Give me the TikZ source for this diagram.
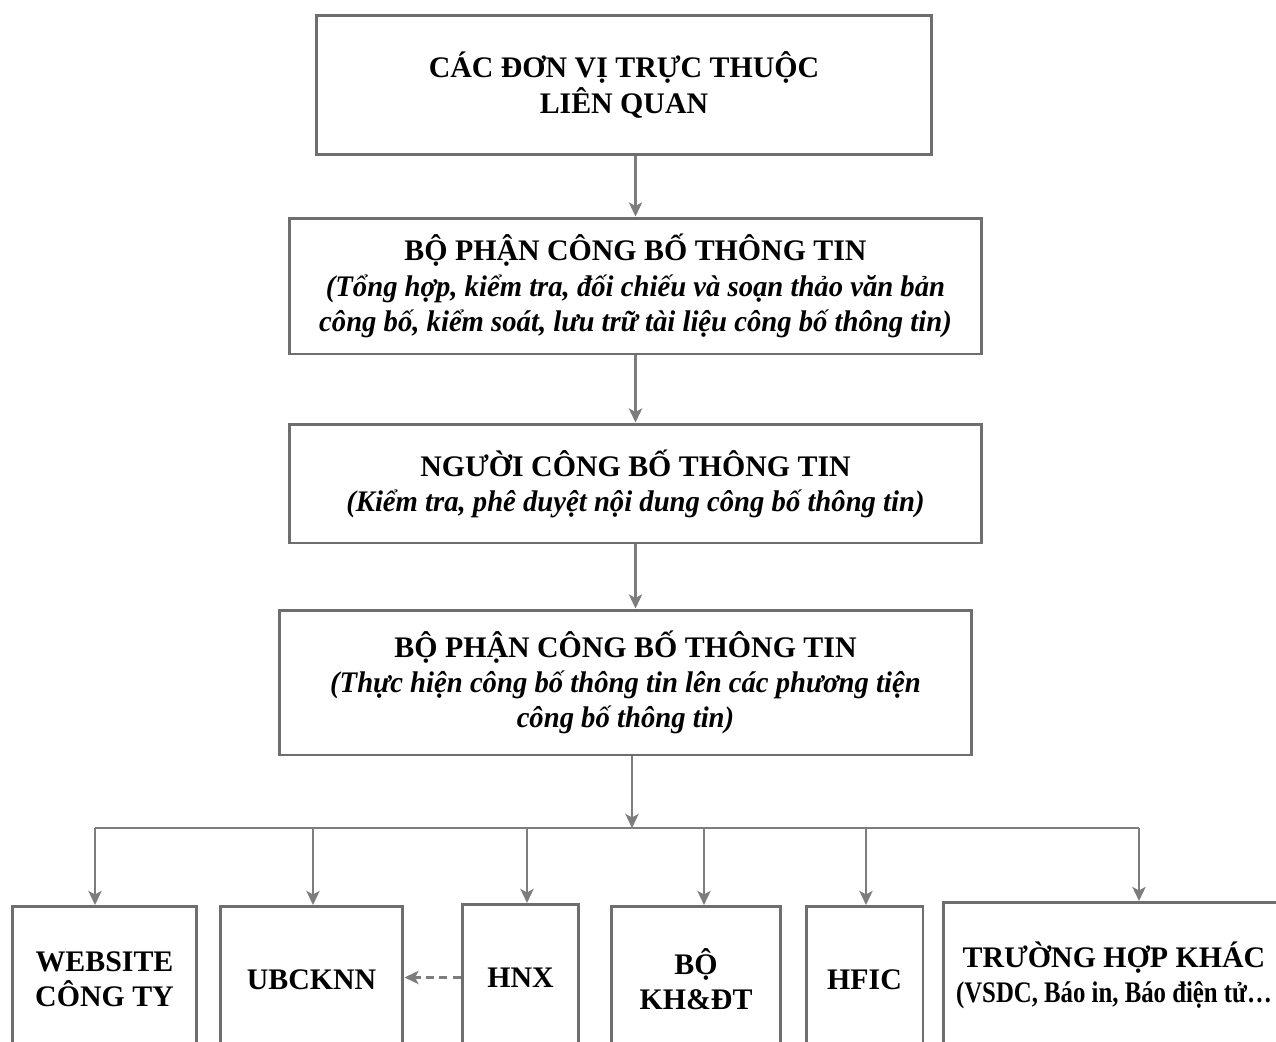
\documentclass[tikz,border=0pt]{standalone}
\usepackage{fontspec}
\setmainfont{Liberation Serif}
\newfontfamily\tightserif[FakeStretch=0.96]{Liberation Serif}
\newfontfamily\narrowserif[FakeStretch=0.83]{Liberation Serif}
\usetikzlibrary{arrows.meta}
\definecolor{boxgray}{RGB}{110,110,110}
\definecolor{wiregray}{RGB}{125,125,125}

\begin{document}
\begin{tikzpicture}[x=0.02cm,y=-0.02cm,
  box/.style={draw=boxgray,line width=1.7pt,fill=white,align=center,inner sep=0pt,font=\fontsize{17}{20}\selectfont\bfseries},
  leaf/.style={box,anchor=north,minimum height=2.92cm},
  wire/.style={wiregray,line width=1.6pt},
  conn/.style={wire,-{Stealth[length=8pt,width=7.5pt,inset=2pt]}}]
\useasboundingbox (0,0) rectangle (1276,1042);
\clip (0,0) rectangle (1276,1042);
\node[box,minimum width=12.32cm,minimum height=2.8cm] (units) at (624,85) {CÁC ĐƠN VỊ TRỰC THUỘC\\LIÊN QUAN};
\node[box,minimum width=13.86cm,minimum height=2.72cm] (collect) at (635.5,286) {BỘ PHẬN CÔNG BỐ THÔNG TIN\\
  \tightserif\itshape (Tổng hợp, kiểm tra, đối chiếu và soạn thảo văn bản\\
  \tightserif\itshape công bố, kiểm soát, lưu trữ tài liệu công bố thông tin)};
\node[box,minimum width=13.86cm,minimum height=2.38cm] (approver) at (635.5,483.5) {NGƯỜI CÔNG BỐ THÔNG TIN\\
  \tightserif\itshape (Kiểm tra, phê duyệt nội dung công bố thông tin)};
\node[box,minimum width=13.86cm,minimum height=2.9cm] (publish) at (625.5,682.5) {BỘ PHẬN CÔNG BỐ THÔNG TIN\\
  \tightserif\itshape (Thực hiện công bố thông tin lên các phương tiện\\
  \tightserif\itshape công bố thông tin)};
\node[leaf,minimum width=3.7cm] (web) at (104.5,905) {WEBSITE\\CÔNG TY};
\node[leaf,minimum width=3.66cm] (ubck) at (311.5,905) {UBCKNN};
\node[leaf,minimum width=2.34cm] (hnx) at (520.5,903) {HNX};
\node[leaf,minimum width=3.4cm] (bokh) at (696,905) {BỘ\\KH\&ĐT};
\node[leaf,minimum width=2.34cm] (hfic) at (864.5,905) {HFIC};
\node[leaf,minimum width=6.84cm] (khac) at (1114,901) {TRƯỜNG HỢP KHÁC\\\narrowserif (VSDC, Báo in, Báo điện tử…};
\coordinate (hub) at (632,828);
\coordinate (d1) at (95,828);
\coordinate (d2) at (313,828);
\coordinate (d3) at (527,828);
\coordinate (d4) at (704,828);
\coordinate (d5) at (866,828);
\coordinate (d6) at (1139,828);
\draw[conn] (units.south -| collect) -- (collect.north);
\draw[conn] (collect.south) -- (approver.north);
\draw[conn] (approver.south) -- (approver.south |- publish.north);
\draw[conn] (hub |- publish.south) -- (hub);
\draw[wire] (d1) -- (d6);
\draw[conn] (d1) -- (d1 |- web.north);
\draw[conn] (d2) -- (d2 |- ubck.north);
\draw[conn] (d3) -- (d3 |- hnx.north);
\draw[conn] (d4) -- (d4 |- bokh.north);
\draw[conn] (d5) -- (d5 |- hfic.north);
\draw[conn] (d6) -- (d6 |- khac.north);
\draw[conn,dash pattern=on 4.5pt off 3pt] (hnx.west) -- (hnx.west -| ubck.east);
\end{tikzpicture}
\end{document}
